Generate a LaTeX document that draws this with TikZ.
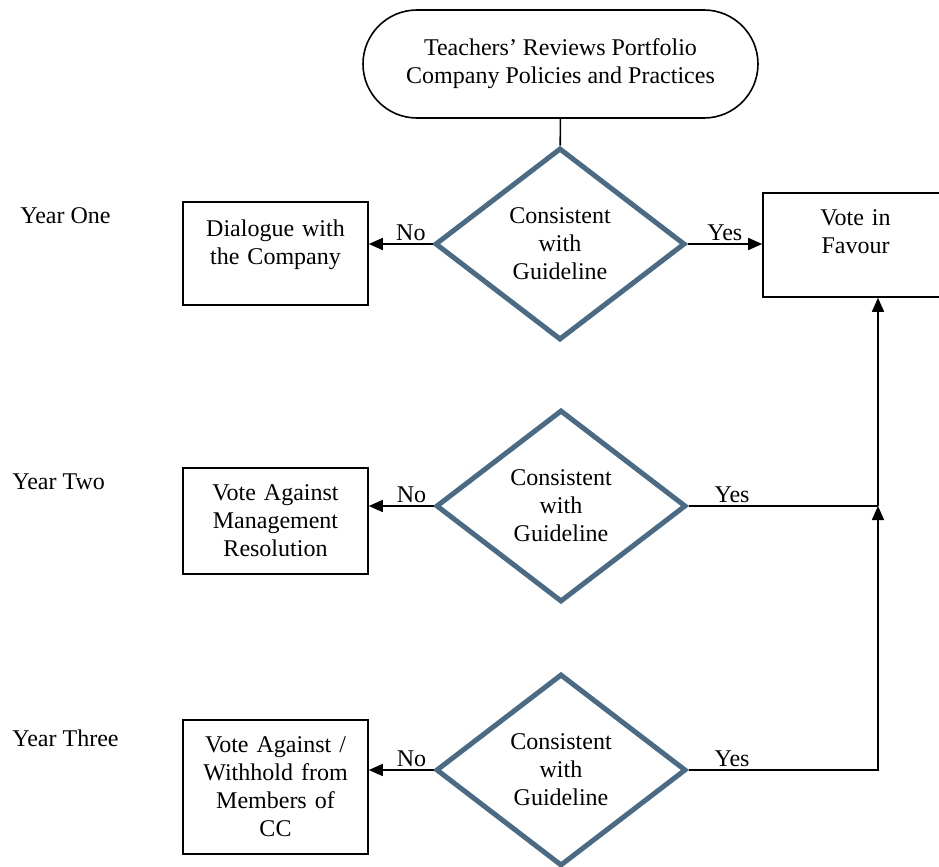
\documentclass[tikz,border=0pt]{standalone}
\usepackage{fontspec}
\setmainfont{Liberation Serif}
\usetikzlibrary{shapes.geometric,arrows.meta}
\definecolor{decblue}{HTML}{4B6B84}

\begin{document}
\begin{tikzpicture}[x=0.5pt,y=-0.5pt,font=\fontsize{12}{14}\selectfont,
  startnode/.style={draw,line width=0.8pt,rounded corners=27pt,minimum width=197.5pt,minimum height=54pt,align=center},
  decision/.style={diamond,draw=decblue,line width=2.5pt,minimum width=125pt,minimum height=96pt,inner sep=0pt,align=center},
  outcome/.style={draw,line width=0.8pt,text width=88pt,inner xsep=2.25pt,inner ysep=3pt,align=center},
  yearlabel/.style={anchor=west,inner sep=0pt},
  link/.style={line width=0.8pt},
  arr/.style={link,-{Triangle[length=7pt,width=6pt]}},
  answer/.style={above,inner sep=1pt}]
\useasboundingbox (0,0) rectangle (939,867);

\node[startnode] (start) at (560.5,64) {Teachers’ Reviews Portfolio\\Company Policies and Practices};

\node[decision] (dec1) at (560,244) {Consistent\\with\\Guideline};
\node[decision] (dec2) at (561,506) {Consistent\\with\\Guideline};
\node[decision] (dec3) at (561,770) {Consistent\\with\\Guideline};

\node[outcome,text height=14pt,text depth=31.5pt] (dialogue) at (275.5,253.5) {Dialogue with\\the Company};
\node[outcome,minimum height=53pt] (against) at (275.5,521) {Vote Against\\Management\\Resolution};
\node[outcome,minimum height=67pt] (withhold) at (275.5,787) {Vote Against /\\Withhold from\\Members of\\CC};
\node[outcome,text height=13pt,text depth=33pt] (favour) at (855.5,245) {Vote in\\Favour};

\node[yearlabel] (year1) at (20,216) {Year One};
\node[yearlabel] (year2) at (12,482) {Year Two};
\node[yearlabel] (year3) at (12,738) {Year Three};

\coordinate (merge) at (878,506);

\draw[link] (start) -- (dec1);
\draw[arr] (dec1.west) -- node[answer,pos=0.34]{No} (dec1.west -| dialogue.east);
\draw[arr] (dec1.east) -- node[answer,pos=0.5]{Yes} (dec1.east -| favour.west);
\draw[arr] (dec2.west) -- node[answer,pos=0.34]{No} (dec2.west -| against.east);
\draw[link] (dec2.east) -- node[answer,pos=0.23]{Yes} (merge);
\draw[arr] (merge) -- (merge |- favour.south);
\draw[arr] (dec3.west) -- node[answer,pos=0.34]{No} (dec3.west -| withhold.east);
\draw[arr] (dec3.east) -- node[answer,pos=0.23]{Yes} (dec3.east -| merge) -- (merge);
\end{tikzpicture}
\end{document}
